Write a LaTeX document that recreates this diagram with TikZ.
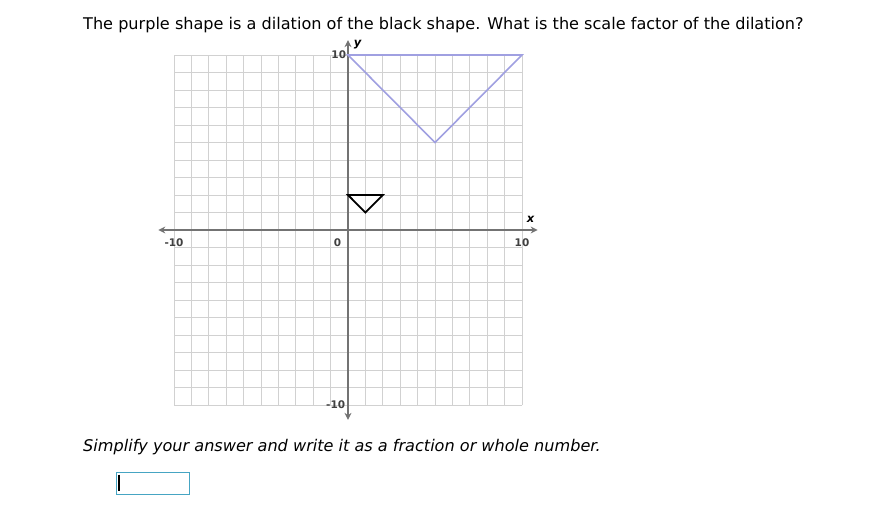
\documentclass[tikz,border=0pt]{standalone}
\usepackage{fontspec}
\setmainfont{DejaVu Sans}
\usetikzlibrary{arrows.meta,positioning}

\definecolor{shapepurple}{RGB}{160,160,225}
\definecolor{boxblue}{RGB}{70,165,195}

\begin{document}
\begin{tikzpicture}[
        x=1pt, y=-1pt,
        question/.style={font=\fontsize{16.1}{18}\selectfont, anchor=base west, inner sep=0pt},
        ticklabel/.style={font=\fontsize{10.5}{11}\selectfont\bfseries, text=black!75, inner sep=0pt},
        axislabel/.style={font=\fontsize{11.5}{12}\selectfont\itshape\bfseries, inner sep=0pt},
        gridline/.style={draw=black!18, line width=0.8pt},
        axisline/.style={draw=black!55, line width=1.3pt, {Stealth[length=7pt,width=7pt]}-{Stealth[length=7pt,width=7pt]}}
      ]
        \useasboundingbox[fill=white] (0,0) rectangle (870,514);

        \node (ask) [question] at (83,29.5) {The purple shape is a dilation of the black shape. What is the scale factor of the dilation?};

        % coordinate plane, origin at (348,230)
        \begin{scope}[shift={(348,230)}, x=17.4pt, y=17.5pt]
          \draw[gridline, step=1] (-10,-10) grid (10,10);

          \coordinate (xleft) at (-10.9,0);
          \coordinate (xright) at (10.9,0);
          \coordinate (ytop) at (0,10.85);
          \coordinate (ybottom) at (0,-10.85);
          \draw[axisline] (xleft) -- (xright);
          \draw[axisline] (ybottom) -- (ytop);

          \node (xlab) [axislabel] at (10.5,0.6) {x};
          \node (ylab) [axislabel] at (0.55,10.6) {y};

          \node (xmin) [ticklabel] at (-10,-0.7) {-10};
          \node (zero) [ticklabel] at (-0.6,-0.7) {0};
          \node (xmax) [ticklabel] at (10,-0.7) {10};
          \node (ymax) [ticklabel, anchor=east] at (-0.1,10) {10};
          \node (ymin) [ticklabel, anchor=east] at (-0.15,-10) {-10};

          % black shape and its image
          \draw[black, line width=1.8pt, line join=miter] (0,2) -- (2,2) -- (1,1) -- cycle;
          \draw[shapepurple, line width=1.6pt] (0,10) -- (10,10) -- (5,5) -- cycle;
        \end{scope}

        \node (hint) [question, font=\fontsize{16.1}{18}\selectfont\itshape] at (83,451) {Simplify your answer and write it as a fraction or whole number.};

        \node (answer) [draw=boxblue, line width=0.9pt, minimum width=73pt, minimum height=22pt, inner sep=0pt] at (152.5,483) {};
        \coordinate (cursortop) at ([xshift=3.5pt,yshift=-3pt]answer.north west);
        \coordinate (cursorbot) at ([xshift=3.5pt,yshift=3pt]answer.south west);
        \draw[black, line width=1.2pt] (cursortop) -- (cursorbot);
      \end{tikzpicture}
\end{document}
